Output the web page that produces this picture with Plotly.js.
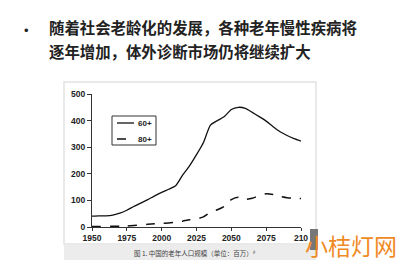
<!DOCTYPE html>
<html><head><meta charset="utf-8">
<script src="https://cdn.plot.ly/plotly-3.0.1.min.js"></script>
<style>html,body{margin:0;padding:0;background:#fff;}#chart{width:400px;height:264px;}</style>
</head><body><div id="chart"></div>
<script>
const years = [1950,1955,1960,1965,1970,1975,1980,1985,1990,1995,2000,2005,2010,2015,2020,2025,2030,2035,2040,2045,2050,2055,2060,2065,2070,2075,2080,2085,2090,2095,2100];
const age60 = [41,42,42,45,52,63,77,90,103,117,130,142,155,195,230,272,318,383,400,415,442,450,446,431,415,398,377,358,344,332,323];
const age80 = [2,2,2,3,3,4,6,8,10,12,14,15,18,22,27,30,38,55,65,78,103,112,104,108,118,125,122,115,110,108,107];
const seriesNames = ['60+','80+'];
const xTicks = [1950,1975,2000,2025,2050,2075,2100];
const xTickText = ['1950','1975','2000','2025','2050','2075','210'];
const yTicks = [0,100,200,300,400,500];
const headline1 = '随着社会老龄化的发展，各种老年慢性疾病将';
const headline2 = '逐年增加，体外诊断市场仍将继续扩大';
const caption = '图 1. 中国的老年人口规模（单位：百万）ª';
const watermark = '小桔灯网';

// plot area in pixels: x 92..301, y 94..227
const L=92,R=301,T=94,B=227;
const px=x=>(x-L)/(R-L), py=y=>(B-y)/(B-T);

const lineStyles = [{color:'#111',width:1.3},{color:'#111',width:1.5,dash:'dash'}];
const traces = [
  {x:years,y:age60,name:seriesNames[0],mode:'lines',line:Object.assign({shape:'spline',smoothing:0.6},lineStyles[0])},
  {x:years,y:age80,name:seriesNames[1],mode:'lines',line:Object.assign({shape:'spline',smoothing:0.6},lineStyles[1])}
];
const tickFont = {family:'Liberation Sans, Arial',size:8.5,color:'#222',weight:'bold'};
const shapes = [
  {type:'rect',xref:'paper',yref:'paper',x0:px(64),x1:px(316),y0:py(244),y1:py(82),line:{color:'#e2e2e2',width:1.5},layer:'below'},
  {type:'rect',xref:'paper',yref:'paper',x0:px(64),x1:px(316),y0:py(260),y1:py(245),line:{width:0},fillcolor:'#ececec',layer:'below'},
  {type:'rect',xref:'paper',yref:'paper',x0:px(310),x1:px(318),y0:py(250),y1:py(229),line:{width:0},fillcolor:'#777',layer:'below'},
  // legend box
  {type:'rect',xref:'paper',yref:'paper',x0:px(112),x1:px(156),y0:py(145),y1:py(116),line:{color:'#333',width:1},fillcolor:'#fff'}
];
const annotations = [
  {xref:'paper',yref:'paper',x:px(22),y:py(30),yanchor:'middle',text:'•',showarrow:false,font:{family:'Liberation Sans',size:13,color:'#222'}},
  {xref:'paper',yref:'paper',x:px(47),y:py(27),xanchor:'left',yanchor:'middle',text:headline1,showarrow:false,
    font:{family:'Noto Sans CJK SC',size:15.4,color:'#222',weight:'bold'}},
  {xref:'paper',yref:'paper',x:px(47),y:py(51),xanchor:'left',yanchor:'middle',text:headline2,showarrow:false,
    font:{family:'Noto Sans CJK SC',size:15.4,color:'#222',weight:'bold'}},
  {xref:'paper',yref:'paper',x:px(195),y:py(253),xanchor:'center',yanchor:'middle',text:caption,showarrow:false,
    font:{family:'Noto Sans CJK SC',size:6.5,color:'#444'}},
  {xref:'paper',yref:'paper',x:px(351),y:py(245),xanchor:'center',yanchor:'middle',text:watermark,showarrow:false,
    font:{family:'Noto Sans CJK SC',size:23,color:'#f08a24'}}
];
const legendRows = [123,139];
seriesNames.forEach((n,i)=>{
  shapes.push({type:'line',xref:'paper',yref:'paper',x0:px(117),x1:px(134),y0:py(legendRows[i]),y1:py(legendRows[i]),line:lineStyles[i]});
  annotations.push({xref:'paper',yref:'paper',x:px(136),y:py(legendRows[i]),xanchor:'left',yanchor:'middle',text:n,showarrow:false,
    font:{family:'Liberation Sans, Arial',size:8,color:'#222',weight:'bold'}});
});
const layout = {
  width:400,height:264,
  margin:{l:L,r:400-R,t:T,b:264-B},
  paper_bgcolor:'#fff',plot_bgcolor:'rgba(0,0,0,0)',
  showlegend:false,
  xaxis:{range:[1950,2100],tickvals:xTicks,ticktext:xTickText,showgrid:false,zeroline:false,
    showline:true,linecolor:'#333',linewidth:1,ticks:'outside',ticklen:3,tickcolor:'#333',tickfont:tickFont},
  yaxis:{range:[0,500],tickvals:yTicks,showgrid:false,zeroline:false,
    showline:true,linecolor:'#333',linewidth:1,ticks:'outside',ticklen:4,tickcolor:'#333',tickfont:tickFont},
  shapes:shapes,
  annotations:annotations
};
Plotly.newPlot('chart',traces,layout,{displayModeBar:false,staticPlot:true});
</script></body></html>
